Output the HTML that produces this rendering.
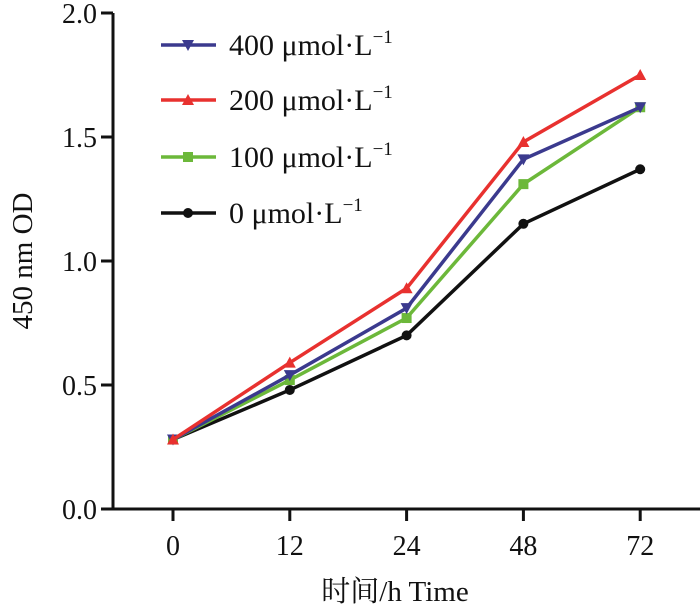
<!DOCTYPE html>
<html><head><meta charset="utf-8"><style>
body{margin:0;background:#fff}
text{font-family:"Liberation Serif","Noto Serif CJK SC",serif;fill:#111}
</style></head><body>
<svg width="700" height="608">
<g id="axes"></g><g id="series"></g><g id="legend"></g>
</svg>
<script>
const categories=["0","12","24","48","72"];
const yTicks=[0,0.5,1.0,1.5,2.0];
const yTickLabels=["0.0","0.5","1.0","1.5","2.0"];
const seriesNames=["400 μmol·L","200 μmol·L","100 μmol·L","0 μmol·L"];
const s400=[0.28,0.54,0.81,1.41,1.62];
const s200=[0.28,0.59,0.89,1.48,1.75];
const s100=[0.28,0.52,0.77,1.31,1.62];
const s0=[0.28,0.48,0.70,1.15,1.37];
const colors=["#3b3a8e","#e8312f","#6cb83a","#111111"];
const markers=["tri-down","tri-up","square","circle"];
const allSeries=[s400,s200,s100,s0];
const NS="http://www.w3.org/2000/svg";
const X0=113,Y0=509,Ytop=13;
function x(i){return 173+i*116.8;}
function y(v){return Y0-(v/2)*(Y0-Ytop);}
function mk(tag,attrs,parent){const e=document.createElementNS(NS,tag);for(const k in attrs)e.setAttribute(k,attrs[k]);parent.appendChild(e);return e;}
const axes=document.getElementById('axes');
let yl=mk('line',{x1:X0,y1:Ytop,x2:X0,y2:Y0,stroke:'#111','stroke-width':3},axes);


let xl=mk('line',{x1:X0-1.5,y1:Y0,x2:700,y2:Y0,stroke:'#111','stroke-width':3},axes);


yTicks.forEach((v,i)=>{
 mk('line',{x1:X0-12,y1:y(v),x2:X0,y2:y(v),stroke:'#111','stroke-width':3},axes);
 const t=mk('text',{x:X0-16,y:y(v)+10,'text-anchor':'end','font-size':28},axes);t.textContent=yTickLabels[i];
 
 
});
categories.forEach((c,i)=>{
 mk('line',{x1:x(i),y1:Y0,x2:x(i),y2:Y0+12,stroke:'#111','stroke-width':3},axes);
 const t=mk('text',{x:x(i),y:Y0+46,'text-anchor':'middle','font-size':28},axes);t.textContent=c;
 
 
});
let xt=mk('text',{x:395,y:601,'text-anchor':'middle','font-size':29},axes);xt.textContent="时间/h  Time";


let yt=mk('text',{x:32,y:261,'text-anchor':'middle','font-size':29,transform:'rotate(-90 32 261)'},axes);yt.textContent="450 nm OD";


function marker(type,cx,cy,col,p,sz){
 let e;
 if(type==='circle')e=mk('circle',{cx:cx,cy:cy,r:sz,fill:col},p);
 else if(type==='square')e=mk('rect',{x:cx-sz,y:cy-sz,width:2*sz,height:2*sz,fill:col},p);
 else if(type==='tri-up')e=mk('polygon',{points:`${cx-sz*1.2},${cy+sz} ${cx+sz*1.2},${cy+sz} ${cx},${cy-sz*1.2}`,fill:col},p);
 else e=mk('polygon',{points:`${cx-sz*1.2},${cy-sz} ${cx+sz*1.2},${cy-sz} ${cx},${cy+sz*1.2}`,fill:col},p);
 return e;
}
const sg=document.getElementById('series');
[3,2,0,1].forEach(k=>{
 const d=allSeries[k];
 const g=mk('g',{},sg);
 
 
 mk('polyline',{points:d.map((v,i)=>x(i)+','+y(v)).join(' '),fill:'none',stroke:colors[k],'stroke-width':3.5},g);
 d.forEach((v,i)=>{const m=marker(markers[k],x(i),y(v),colors[k],g,5);
  
  });
});
const lg=document.getElementById('legend');
const ly=[45,100,157,213];
seriesNames.forEach((n,k)=>{
 const g=mk('g',{},lg);
 
 
 mk('line',{x1:161,y1:ly[k],x2:216,y2:ly[k],stroke:colors[k],'stroke-width':3.5},g);
 marker(markers[k],188,ly[k],colors[k],g,5);
 const t=mk('text',{x:229,y:ly[k]+10,'font-size':30},g);
 t.textContent=n;
 const sup=mk('tspan',{dy:-12,'font-size':19},t);sup.textContent="−1";
});
</script>
</body></html>
